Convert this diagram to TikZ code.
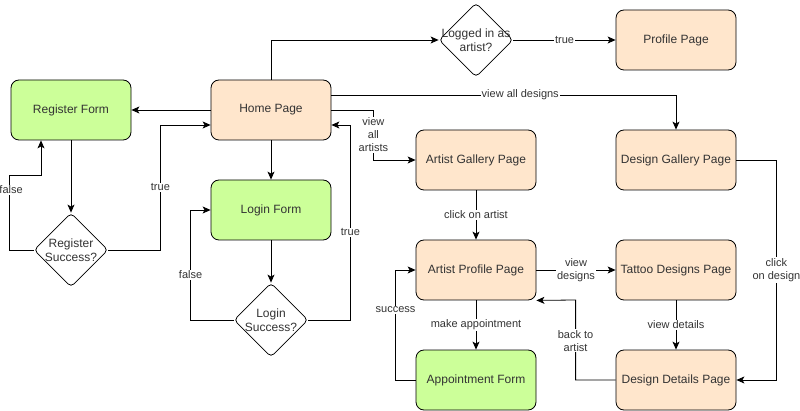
\documentclass[tikz,border=0pt]{standalone}
\usepackage{fontspec}
\setmainfont{Liberation Sans}
\usetikzlibrary{shapes.geometric,arrows.meta}
\definecolor{pagefill}{HTML}{FFE6CC}
\definecolor{formfill}{HTML}{CCFF99}
\definecolor{txt}{HTML}{333333}
\newcommand{\dline}[1]{\makebox[0pt]{#1}}
\tikzstyle{page} = [rectangle, rounded corners=8pt, minimum width=120pt, minimum height=60pt, text centered, draw=black, fill=pagefill, text=txt, font=\fontsize{12}{14}\selectfont]
\tikzstyle{form} = [page, fill=formfill]
\tikzstyle{decision} = [diamond, rounded corners=4pt, minimum width=74pt, minimum height=74pt, inner sep=0pt, align=center, draw=black, fill=white, text=txt, font=\fontsize{12}{14}\selectfont]
\tikzstyle{arrow} = [-{Stealth[length=8pt,width=7pt,inset=2pt]}]
\tikzstyle{lbl} = [fill=white, inner sep=1pt, text=txt, font=\fontsize{11}{13}\selectfont]

\begin{document}
\begin{tikzpicture}[x=1pt, y=-1pt, line width=0.8pt]
        \useasboundingbox (0,0) rectangle (800,411);
        \node (home) [page] at (271,110) {Home Page};
        \node (register) [form, left of=home, node distance=200pt] {Register Form};
        \node (login) [form, below of=home, node distance=100pt] {Login Form};
        \node (regok) [decision, below of=register, node distance=140pt] {\dline{Register}\\\dline{Success?}};
        \node (loginok) [decision, below of=login, node distance=110pt] {\dline{Login}\\\dline{Success?}};
        \node (logged) [decision] at (476,40) {\dline{Logged in as}\\\dline{artist?}};
        \node (profile) [page, right of=logged, node distance=200pt] {Profile Page};
        \node (gallery) [page, below of=logged, node distance=120pt] {Artist Gallery Page};
        \node (dgallery) [page, below of=profile, node distance=120pt] {Design Gallery Page};
        \node (artprof) [page, below of=gallery, node distance=110pt] {Artist Profile Page};
        \node (tattoo) [page, right of=artprof, node distance=200pt] {Tattoo Designs Page};
        \node (appt) [form, below of=artprof, node distance=110pt] {Appointment Form};
        \node (details) [page, below of=tattoo, node distance=110pt] {Design Details Page};

            % register / login loop
        \draw [arrow] (home) -- (register);
        \draw [arrow] (register) -- (regok);
        \draw [arrow] (regok.west) -- ++(-24,0) -- node[lbl, pos=0.8, inner sep=0.5pt, xshift=1.5pt] {false} ++(0,-75) -| ([xshift=-30pt]register.south);
        \draw [arrow] (regok.east) -- ++(52,0) -- node[lbl] {true} ++(0,-125) -- ([yshift=-15pt]home.west);
        \draw [arrow] (home) -- (login);
        \draw [arrow] (login) -- (loginok);
        \draw [arrow] (loginok.west) -- ++(-43,0) -- node[lbl, pos=0.41] {false} ++(0,-110) -- (login.west);
        \draw [arrow] (loginok.east) -- ++(42,0) -- node[lbl, pos=0.45] {true} ++(0,-195) -- ([yshift=-15pt]home.east);

            % pages
        \draw [arrow] (home.north) |- (logged.west);
        \draw [arrow] (logged) -- node[lbl] {true} (profile);
        \draw [arrow] (home.east) -- ++(42,0) -- node[lbl, align=center] {view\\all\\artists} ++(0,50) -- (gallery.west);
        \draw [arrow] ([yshift=15pt]home.east) -| node[lbl, pos=0.274] {view all designs} (dgallery.north);
        \draw [arrow] (gallery) -- node[lbl] {click on artist} (artprof);
        \draw [arrow] (artprof) -- node[lbl, align=center] {view\\designs} (tattoo);
        \draw [arrow] (artprof) -- node[lbl] {make appointment} (appt);
        \draw [arrow] (appt.west) -- ++(-20,0) -- node[lbl, pos=0.64] {success} ++(0,-110) -- (artprof.west);
        \draw [arrow] (tattoo) -- node[lbl] {view details} (details);
        \draw [arrow] (details.west) -- ++(-40,0) -- node[lbl, align=center, pos=0.49] {back to\\artist} ++(0,-80) -- (artprof.south east);
        \draw [arrow] (dgallery.east) -- ++(40,0) -- node[lbl, align=center] {click\\on design} ++(0,220) -- (details.east);
    \end{tikzpicture}
\end{document}
